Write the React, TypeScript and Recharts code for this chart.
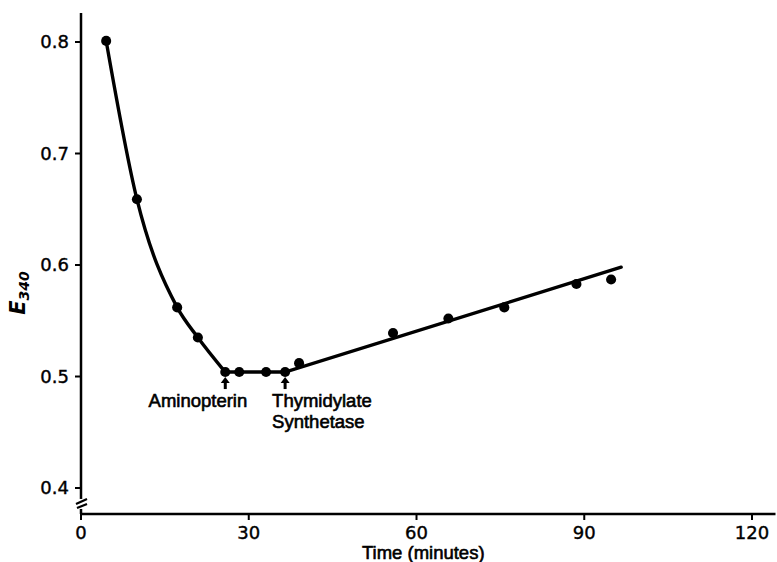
import React from "react";
import {
  ComposedChart,
  Line,
  Scatter,
  XAxis,
  YAxis,
  ZAxis,
  ReferenceDot,
} from "recharts";

// Measured points
const measuredTime = [4.5, 10, 17.2, 20.9, 25.8, 28.3, 33.1, 36.5, 39.0, 55.8, 65.7, 75.7, 88.6, 94.8];
const measuredE340 = [0.801, 0.659, 0.562, 0.535, 0.504, 0.504, 0.504, 0.504, 0.512, 0.539, 0.552, 0.562, 0.583, 0.587];

// Smooth decay curve drawn through the first points
const decayCurveTime = [4.5, 10, 17.2, 20.9, 25.8];
const decayCurveE340 = [0.801, 0.659, 0.562, 0.535, 0.504];

// Plateau and fitted straight line
const fitLineTime = [25.8, 36.5, 96.6];
const fitLineE340 = [0.504, 0.504, 0.598];

// Annotations (arrows)
const annotationTime = [25.8, 36.5];
const annotationE340 = [0.504, 0.504];
const annotationLabels = [["Aminopterin"], ["Thymidylate", "Synthetase"]];

const xTicks = [0, 30, 60, 90, 120];
const yTicks = [0.4, 0.5, 0.6, 0.7, 0.8];
const xDomain = [0, 124.2];
const yDomain = [0.3767, 0.826];
const axisBreakAt = { x: 0, y: 0.3857 };

const xLabel = "Time (minutes)";
const yLabelMain = "E";
const yLabelSub = "340";

const toRows = (xs: number[], ys: number[]) => xs.map((x, i) => ({ x, y: ys[i] }));

const measured = toRows(measuredTime, measuredE340);
const decay = toRows(decayCurveTime, decayCurveE340);
const fit = toRows(fitLineTime, fitLineE340);

const NUM_FONT = "DejaVu Sans";
const WORD_FONT = "Liberation Sans, Arial, sans-serif";

const ArrowShape = (anchor: "end" | "start", lines: string[]) => (props: any) => {
  const { cx, cy } = props;
  const tx = anchor === "end" ? cx + 22 : cx - 13;
  return (
    <g>
      <polygon
        points={`${cx},${cy + 5} ${cx - 4.5},${cy + 11} ${cx + 4.5},${cy + 11}`}
        fill="#000"
      />
      <rect x={cx - 1.5} y={cy + 10} width={3} height={7} fill="#000" />
      {lines.map((t, i) => (
        <text
          key={i}
          x={tx}
          y={cy + 35 + i * 21}
          textAnchor={anchor}
          fontFamily={WORD_FONT}
          fontSize={18.5}
          fill="#000"
          stroke="#000"
          strokeWidth={0.6}
        >
          {t}
        </text>
      ))}
    </g>
  );
};

const BreakShape = (props: any) => {
  const { cx, cy } = props;
  return (
    <g>
      <rect x={cx - 3} y={cy - 5} width={6} height={10} fill="#fff" />
      <line x1={cx - 5} y1={cy} x2={cx + 6} y2={cy - 5} stroke="#000" strokeWidth={2.2} />
      <line x1={cx - 4} y1={cy + 4} x2={cx + 6} y2={cy} stroke="#000" strokeWidth={2.2} />
    </g>
  );
};

const YLabel = () => (
  <text
    transform="translate(25, 293) rotate(-90)"
    textAnchor="middle"
    fontFamily={NUM_FONT}
    fontStyle="italic"
    fontWeight="bold"
    fontSize={21}
    fill="#000"
  >
    <tspan>{yLabelMain}</tspan>
    <tspan fontSize={14} dy={4}>
      {yLabelSub}
    </tspan>
  </text>
);

const XLabel = (props: any) => {
  const vb = props.viewBox || {};
  return (
    <text
      x={vb.x + vb.width / 2 - 5}
      y={559}
      textAnchor="middle"
      fontFamily={WORD_FONT}
      fontSize={18.5}
      fill="#000"
      stroke="#000"
      strokeWidth={0.6}
    >
      {xLabel}
    </text>
  );
};

const tickStyle = { fill: "#000", fontFamily: NUM_FONT, fontSize: 18, stroke: "#000", strokeWidth: 0.4 };

export default function App() {
  return (
    <div style={{ position: "absolute", left: 0, top: 0, width: 777, height: 562, background: "#fff" }}>
      <ComposedChart
        width={777}
        height={562}
        margin={{ top: 13, right: 1.5, left: 0, bottom: 0 }}
      >
        <XAxis
          dataKey="x"
          type="number"
          domain={xDomain}
          ticks={xTicks}
          allowDataOverflow
          height={48}
          stroke="#000"
          strokeWidth={2.5}
          tickSize={6}
          tickMargin={6}
          tick={tickStyle}
          tickLine={{ stroke: "#000", strokeWidth: 2 }}
          label={<XLabel />}
        />
        <YAxis
          dataKey="y"
          type="number"
          domain={yDomain}
          ticks={yTicks}
          allowDataOverflow
          width={81}
          stroke="#000"
          strokeWidth={2.5}
          tickSize={6}
          tickMargin={6}
          tickFormatter={(v: number) => v.toFixed(1)}
          tick={tickStyle}
          tickLine={{ stroke: "#000", strokeWidth: 2 }}
          label={<YLabel />}
        />
        <ZAxis range={[80, 80]} />
        <Line
          data={decay}
          dataKey="y"
          type="monotone"
          stroke="#000"
          strokeWidth={3.4}
          dot={false}
          activeDot={false}
          isAnimationActive={false}
          strokeLinecap="round"
        />
        <Line
          data={fit}
          dataKey="y"
          type="linear"
          stroke="#000"
          strokeWidth={3.4}
          dot={false}
          activeDot={false}
          isAnimationActive={false}
          strokeLinecap="round"
        />
        <Scatter data={measured} dataKey="y" fill="#000" isAnimationActive={false} />
        {annotationTime.map((t, i) => (
          <ReferenceDot
            key={i}
            x={t}
            y={annotationE340[i]}
            r={0}
            shape={ArrowShape(i === 0 ? "end" : "start", annotationLabels[i])}
          />
        ))}
        <ReferenceDot x={axisBreakAt.x} y={axisBreakAt.y} r={0} shape={BreakShape} />
      </ComposedChart>
    </div>
  );
}
